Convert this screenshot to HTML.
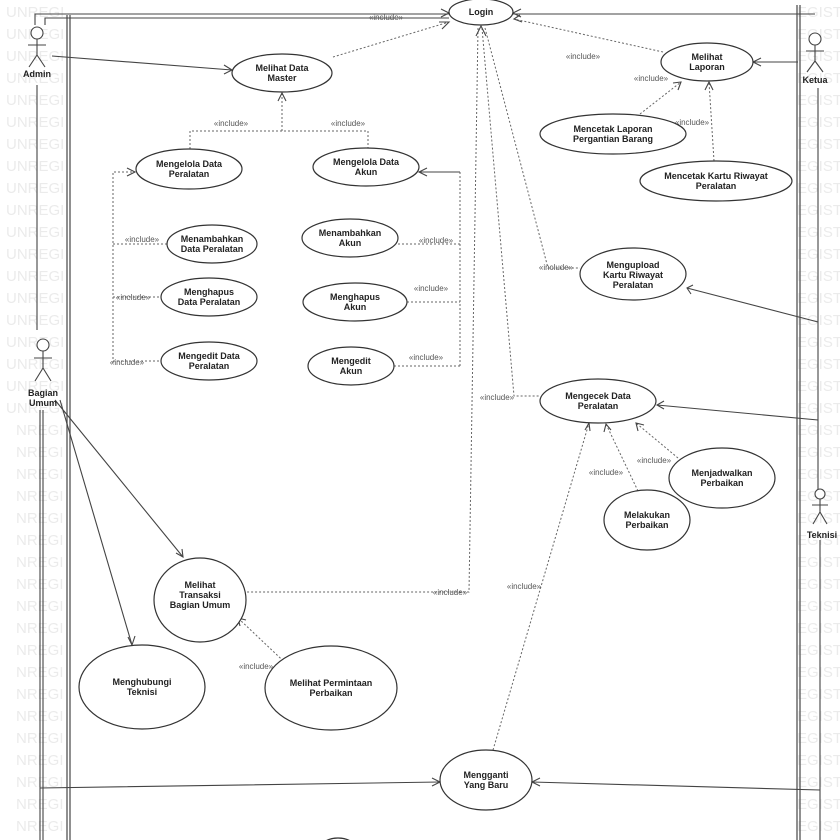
<!DOCTYPE html>
<html><head><meta charset="utf-8"><style>
html,body{margin:0;padding:0;background:#fff}
svg{display:block}
text{font-family:"Liberation Sans",sans-serif}
.wm{fill:#ebebeb;font-size:15px}
.t{font-size:9px;fill:#222;text-anchor:middle;font-weight:bold}
.i{font-size:8px;fill:#555;text-anchor:middle}
.e{fill:#fff;stroke:#333;stroke-width:1.2}
.l{stroke:#444;stroke-width:1.1;fill:none}
.d{stroke:#666;stroke-width:1;fill:none;stroke-dasharray:2,2}
.b{stroke:#555;stroke-width:1.3;fill:none}
.a{stroke:#444;stroke-width:1.1;fill:none}
</style></head><body>
<svg width="840" height="840" viewBox="0 0 840 840" xmlns="http://www.w3.org/2000/svg">
<g class="wm">
<text x="6" y="17">UNREGI</text><text x="6" y="39">UNREGI</text><text x="6" y="61">UNREGI</text><text x="6" y="83">UNREGI</text><text x="6" y="105">UNREGI</text><text x="6" y="127">UNREGI</text><text x="6" y="149">UNREGI</text><text x="6" y="171">UNREGI</text><text x="6" y="193">UNREGI</text><text x="6" y="215">UNREGI</text><text x="6" y="237">UNREGI</text><text x="6" y="259">UNREGI</text><text x="6" y="281">UNREGI</text><text x="6" y="303">UNREGI</text><text x="6" y="325">UNREGI</text><text x="6" y="347">UNREGI</text><text x="6" y="369">UNREGI</text><text x="6" y="391">UNREGI</text><text x="6" y="413">UNREGI</text>
<text x="16" y="435">NREGI</text><text x="16" y="457">NREGI</text><text x="16" y="479">NREGI</text><text x="16" y="501">NREGI</text><text x="16" y="523">NREGI</text><text x="16" y="545">NREGI</text><text x="16" y="567">NREGI</text><text x="16" y="589">NREGI</text><text x="16" y="611">NREGI</text><text x="16" y="633">NREGI</text><text x="16" y="655">NREGI</text><text x="16" y="677">NREGI</text><text x="16" y="699">NREGI</text><text x="16" y="721">NREGI</text><text x="16" y="743">NREGI</text><text x="16" y="765">NREGI</text><text x="16" y="787">NREGI</text><text x="16" y="809">NREGI</text><text x="16" y="831">NREGI</text>
<text x="797" y="17">EGIST</text><text x="797" y="39">EGIST</text><text x="797" y="61">EGIST</text><text x="797" y="83">EGIST</text><text x="797" y="105">EGIST</text><text x="797" y="127">EGIST</text><text x="797" y="149">EGIST</text><text x="797" y="171">EGIST</text><text x="797" y="193">EGIST</text><text x="797" y="215">EGIST</text><text x="797" y="237">EGIST</text><text x="797" y="259">EGIST</text><text x="797" y="281">EGIST</text><text x="797" y="303">EGIST</text><text x="797" y="325">EGIST</text><text x="797" y="347">EGIST</text><text x="797" y="369">EGIST</text><text x="797" y="391">EGIST</text><text x="797" y="413">EGIST</text><text x="797" y="435">EGIST</text><text x="797" y="457">EGIST</text><text x="797" y="479">EGIST</text><text x="797" y="501">EGIST</text><text x="797" y="523">EGIST</text><text x="797" y="545">EGIST</text><text x="797" y="567">EGIST</text><text x="797" y="589">EGIST</text><text x="797" y="611">EGIST</text><text x="797" y="633">EGIST</text><text x="797" y="655">EGIST</text><text x="797" y="677">EGIST</text><text x="797" y="699">EGIST</text><text x="797" y="721">EGIST</text><text x="797" y="743">EGIST</text><text x="797" y="765">EGIST</text><text x="797" y="787">EGIST</text><text x="797" y="809">EGIST</text><text x="797" y="831">EGIST</text>
</g>
<!-- boundaries -->
<path class="b" d="M67 15V840M70 15V840M797 5V840M800 5V840"/>
<path class="l" d="M37 85V330M40 410V840M43 410V840M818 88V490M820 540V840"/>
<!-- Admin to Login double -->
<path class="l" d="M35 25V14H449M45 25V18H449"/>
<path class="a" d="M441 9L449 13L441 17"/>
<!-- Admin to Melihat Data Master -->
<path class="l" d="M52 56L232 70"/><path class="a" d="M224 65L232 70L224 74"/>
<!-- Ketua lines -->
<path class="l" d="M815 14H513M798 62H753"/><path class="a" d="M521 9L513 13L521 17M761 58L753 62L761 66"/>
<!-- dashed includes -->
<path class="d" d="M333 57L449 22"/><path class="a" d="M439 22L449 22L442 29"/>
<path class="d" d="M190 149V131H368V148M282 131V93"/><path class="a" d="M278 101L282 93L286 101"/>
<path class="d" d="M113 363V172H135M113 244H167M113 297H161M113 361H161"/><path class="a" d="M127 168L135 172L127 176"/>
<path class="d" d="M460 172V366M398 244H460M407 302H460M394 366H460"/>
<path class="l" d="M460 172H419"/><path class="a" d="M427 168L419 172L427 176"/>
<path class="d" d="M663 52L514 19"/><path class="a" d="M520 15L514 19L522 22"/>
<path class="d" d="M640 114L681 82"/><path class="a" d="M673 83L681 82L678 90"/>
<path class="d" d="M714 161L709 82"/><path class="a" d="M705 90L709 82L713 90"/>
<path class="d" d="M485 28L548 268H580M482 28L514 396H540M478 28L469 592H246"/><path class="a" d="M476 36L481 26L486 36"/>
<path class="d" d="M678 458L636 423"/><path class="a" d="M638 431L636 423L644 425"/>
<path class="d" d="M638 491L606 424"/><path class="a" d="M604 432L606 424L611 430"/>
<path class="d" d="M493 750L589 423"/><path class="a" d="M585 430L589 423L590 431"/>
<path class="d" d="M295 672L238 618"/><path class="a" d="M240 626L238 618L246 620"/>
<!-- Teknisi/Bagian lines -->
<path class="l" d="M818 322L687 288"/><path class="a" d="M693 285L687 288L691 294"/>
<path class="l" d="M818 420L657 405"/><path class="a" d="M664 401L657 405L664 409"/>
<path class="l" d="M55 400L183 557M60 400L132 645"/><path class="a" d="M176 553L183 557L182 549M128 637L132 645L135 636"/>
<path class="l" d="M40 788L440 782M820 790L532 782"/><path class="a" d="M432 778L440 782L432 786M540 778L532 782L540 786"/>
<!-- include labels -->
<g class="i">
<text x="386" y="20">«include»</text><text x="231" y="126">«include»</text><text x="348" y="126">«include»</text>
<text x="142" y="242">«include»</text><text x="133" y="300">«include»</text><text x="127" y="365">«include»</text>
<text x="436" y="243">«include»</text><text x="431" y="291">«include»</text><text x="426" y="360">«include»</text>
<text x="583" y="59">«include»</text><text x="651" y="81">«include»</text><text x="692" y="125">«include»</text>
<text x="556" y="270">«include»</text><text x="497" y="400">«include»</text><text x="450" y="595">«include»</text>
<text x="654" y="463">«include»</text><text x="606" y="475">«include»</text><text x="524" y="589">«include»</text><text x="256" y="669">«include»</text>
</g>
<!-- ellipses -->
<ellipse class="e" cx="481" cy="12" rx="32" ry="13"/><text class="t" x="481" y="15">Login</text>
<ellipse class="e" cx="282" cy="73" rx="50" ry="19"/><text class="t" x="282" y="71">Melihat Data</text><text class="t" x="282" y="81">Master</text>
<ellipse class="e" cx="189" cy="169" rx="53" ry="20"/><text class="t" x="189" y="167">Mengelola Data</text><text class="t" x="189" y="177">Peralatan</text>
<ellipse class="e" cx="366" cy="167" rx="53" ry="19"/><text class="t" x="366" y="165">Mengelola Data</text><text class="t" x="366" y="175">Akun</text>
<ellipse class="e" cx="212" cy="244" rx="45" ry="19"/><text class="t" x="212" y="242">Menambahkan</text><text class="t" x="212" y="252">Data Peralatan</text>
<ellipse class="e" cx="209" cy="297" rx="48" ry="19"/><text class="t" x="209" y="295">Menghapus</text><text class="t" x="209" y="305">Data Peralatan</text>
<ellipse class="e" cx="209" cy="361" rx="48" ry="19"/><text class="t" x="209" y="359">Mengedit Data</text><text class="t" x="209" y="369">Peralatan</text>
<ellipse class="e" cx="350" cy="238" rx="48" ry="19"/><text class="t" x="350" y="236">Menambahkan</text><text class="t" x="350" y="246">Akun</text>
<ellipse class="e" cx="355" cy="302" rx="52" ry="19"/><text class="t" x="355" y="300">Menghapus</text><text class="t" x="355" y="310">Akun</text>
<ellipse class="e" cx="351" cy="366" rx="43" ry="19"/><text class="t" x="351" y="364">Mengedit</text><text class="t" x="351" y="374">Akun</text>
<ellipse class="e" cx="707" cy="62" rx="46" ry="19"/><text class="t" x="707" y="60">Melihat</text><text class="t" x="707" y="70">Laporan</text>
<ellipse class="e" cx="613" cy="134" rx="73" ry="20"/><text class="t" x="613" y="132">Mencetak Laporan</text><text class="t" x="613" y="142">Pergantian Barang</text>
<ellipse class="e" cx="716" cy="181" rx="76" ry="20"/><text class="t" x="716" y="179">Mencetak Kartu Riwayat</text><text class="t" x="716" y="189">Peralatan</text>
<ellipse class="e" cx="633" cy="274" rx="53" ry="26"/><text class="t" x="633" y="268">Mengupload</text><text class="t" x="633" y="278">Kartu Riwayat</text><text class="t" x="633" y="288">Peralatan</text>
<ellipse class="e" cx="598" cy="401" rx="58" ry="22"/><text class="t" x="598" y="399">Mengecek Data</text><text class="t" x="598" y="409">Peralatan</text>
<ellipse class="e" cx="722" cy="478" rx="53" ry="30"/><text class="t" x="722" y="476">Menjadwalkan</text><text class="t" x="722" y="486">Perbaikan</text>
<ellipse class="e" cx="647" cy="520" rx="43" ry="30"/><text class="t" x="647" y="518">Melakukan</text><text class="t" x="647" y="528">Perbaikan</text>
<ellipse class="e" cx="200" cy="600" rx="46" ry="42"/><text class="t" x="200" y="588">Melihat</text><text class="t" x="200" y="598">Transaksi</text><text class="t" x="200" y="608">Bagian Umum</text>
<ellipse class="e" cx="142" cy="687" rx="63" ry="42"/><text class="t" x="142" y="685">Menghubungi</text><text class="t" x="142" y="695">Teknisi</text>
<ellipse class="e" cx="331" cy="688" rx="66" ry="42"/><text class="t" x="331" y="686">Melihat Permintaan</text><text class="t" x="331" y="696">Perbaikan</text>
<ellipse class="e" cx="486" cy="780" rx="46" ry="30"/><text class="t" x="486" y="778">Mengganti</text><text class="t" x="486" y="788">Yang Baru</text>
<ellipse class="e" cx="338" cy="852" rx="20" ry="14"/>
<!-- actors -->
<g class="l" fill="#fff">
<circle cx="37" cy="33" r="6" fill="#fff"/><path d="M37 39V55M28 45H46M37 55L29 67M37 55L45 67"/>
<circle cx="43" cy="345" r="6" fill="#fff"/><path d="M43 351V368M34 358H52M43 368L35 381M43 368L51 381"/>
<circle cx="815" cy="39" r="6" fill="#fff"/><path d="M815 45V61M806 51H824M815 61L807 72M815 61L823 72"/>
<circle cx="820" cy="494" r="5" fill="#fff"/><path d="M820 499V512M812 505H828M820 512L813 524M820 512L827 524"/>
</g>
<g class="t">
<text x="37" y="77">Admin</text><text x="43" y="396">Bagian</text><text x="43" y="406">Umum</text>
<text x="815" y="83">Ketua</text><text x="822" y="538">Teknisi</text>
</g>
</svg>
</body></html>
